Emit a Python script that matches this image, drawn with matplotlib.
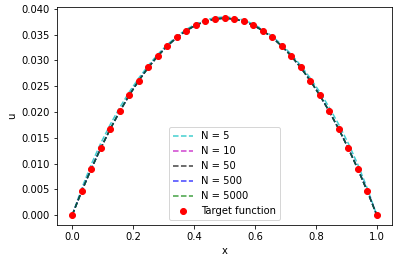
import numpy as np
import matplotlib
matplotlib.use("Agg")
import matplotlib.pyplot as plt

# grid of 33 points on [0, 1]
x = np.linspace(0, 1, 33)

# target values (symmetric about x = 0.5)
half = [0.0, 0.00463, 0.00895, 0.01298, 0.01671, 0.02014, 0.02328, 0.02611,
        0.02865, 0.03089, 0.03283, 0.03447, 0.03581, 0.03686, 0.03760, 0.03805]
target = half + [0.03820] + half[::-1]

# approximations
half5 = [0.0, 0.00520, 0.00985, 0.01395, 0.01760, 0.02090, 0.02390, 0.02660,
         0.02905, 0.03120, 0.03310, 0.03470, 0.03605, 0.03710, 0.03785, 0.03830]
u5 = half5 + [0.03845] + half5[::-1]
half10 = [0.0, 0.00475, 0.00905, 0.01305, 0.01675, 0.02016, 0.02329, 0.02612,
          0.02866, 0.03090, 0.03284, 0.03448, 0.03582, 0.03687, 0.03761, 0.03806]
u10 = half10 + [0.03821] + half10[::-1]
u50 = target
u500 = target
u5000 = target

fig = plt.figure(figsize=(398 / 72, 263 / 72), dpi=72)
ax = fig.add_axes([57 / 398, 1 - 225 / 263, (392 - 57) / 398, (225 - 7) / 263])

ax.plot(x, u5, 'c--', alpha=0.75, label='N = 5')
ax.plot(x, u10, 'm--', alpha=0.75, label='N = 10')
ax.plot(x, u50, 'k--', alpha=0.75, label='N = 50')
ax.plot(x, u500, 'b--', alpha=0.75, label='N = 500')
ax.plot(x, u5000, 'g--', alpha=0.75, label='N = 5000')
ax.plot(x, target, 'ro', label='Target function')

ax.set_xlabel('x')
ax.set_ylabel('u')
ax.set_yticks(np.arange(0, 0.0401, 0.005))
ax.legend(loc='lower center')

fig.savefig('out.png', dpi=72)
